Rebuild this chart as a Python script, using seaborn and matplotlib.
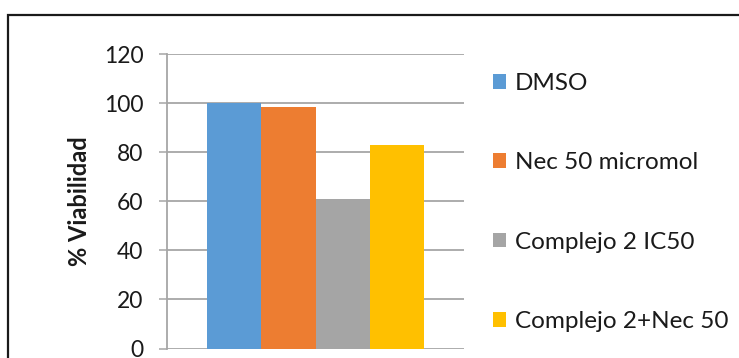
import matplotlib
matplotlib.use("Agg")
import matplotlib.pyplot as plt
from matplotlib.patches import Rectangle
import pandas as pd
import seaborn as sns

# Cell viability per treatment (single group, one bar per treatment)
tratamientos = ["DMSO", "Nec 50 micromol", "Complejo 2 IC50", "Complejo 2+Nec 50"]
viabilidad = [100, 98.5, 61, 83]
grupo = ["1"] * len(tratamientos)
colores = ["#5B9BD5", "#ED7D31", "#A5A5A5", "#FFC000"]
yticks = [0, 20, 40, 60, 80, 100, 120]

df = pd.DataFrame({"grupo": grupo, "tratamiento": tratamientos, "viabilidad": viabilidad})

sns.set_theme(style="white")
plt.rcParams["font.family"] = ["Lato", "DejaVu Sans"]

fig = plt.figure(figsize=(7.39, 3.58), dpi=100)
ax = fig.add_axes([167 / 739, 9.5 / 358, 297 / 739, 294.2 / 358])

sns.barplot(data=df, x="grupo", y="viabilidad", hue="tratamiento",
            hue_order=tratamientos, palette=colores, width=0.734,
            saturation=1, errorbar=None, ax=ax, linewidth=0)

ax.set_ylim(0, 120)
ax.set_xlim(-0.5, 0.5)
ax.set_yticks(yticks)
ax.set_yticklabels([str(v) for v in yticks], fontsize=16.5, color="#1a1a1a")
ax.set_xticks([])
ax.set_xlabel("")

grid_c = "#a6a6a6"
ax.set_axisbelow(True)
ax.yaxis.grid(True, color=grid_c, linewidth=1.3)
for s in ["top", "right", "bottom"]:
    ax.spines[s].set_visible(False)
ax.spines["left"].set_color(grid_c)
ax.spines["left"].set_linewidth(1.3)
ax.tick_params(axis="y", direction="out", length=6, width=1.1, color=grid_c, pad=11, left=True)

ax.set_ylabel("% Viabilidad", fontsize=17, fontweight="bold", color="#1a1a1a")
ax.yaxis.set_label_coords(-0.255, 0.5)

leg = ax.legend(loc="upper left", bbox_to_anchor=(493 / 739, 1 - 73 / 358),
                bbox_transform=fig.transFigure, frameon=False, fontsize=17.5,
                handlelength=0.55, handleheight=0.55, handletextpad=0.34,
                labelspacing=2.4, borderpad=0, borderaxespad=0)
for t in leg.get_texts():
    t.set_color("#1a1a1a")

# Outer chart frame running off the right and bottom edges
fig.patches.append(Rectangle((8 / 739, -0.2), 1.2, 1.2 - 14.5 / 358,
                             transform=fig.transFigure, fill=False,
                             edgecolor="#1a1a1a", linewidth=1.6, clip_on=False))

fig.savefig("out.png", dpi=100)
